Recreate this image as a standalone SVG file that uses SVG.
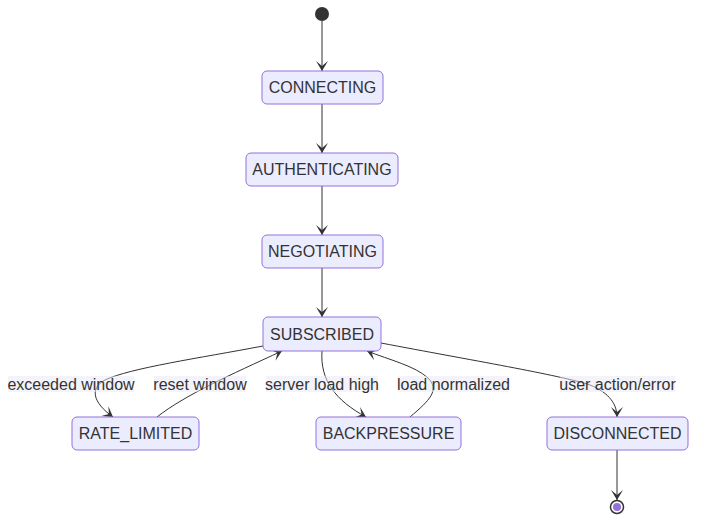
<svg xmlns="http://www.w3.org/2000/svg" width="704" height="527" viewBox="0 0 704 527">
<style>
.node rect{fill:#ECECFF;stroke:#9370DB;stroke-width:1}
.node text{font-family:"Liberation Sans",Arial,sans-serif;font-size:16px;fill:#333;text-anchor:middle;dominant-baseline:central}
.edge{fill:none;stroke:#333;stroke-width:1;marker-end:url(#barb)}
.lbl rect{fill:#e8e8f4;opacity:0.5}
.lbl text{font-family:"Liberation Sans",Arial,sans-serif;font-size:16px;fill:#333;text-anchor:middle;dominant-baseline:central}
</style>
<defs>
<marker id="barb" viewBox="0 0 20 14" refX="19" refY="7" markerWidth="20" markerHeight="14" markerUnits="userSpaceOnUse" orient="auto">
<path d="M19,7 L9,13 L14,7 L9,1 Z" fill="#333"/>
</marker>
</defs>
<g id="connectors">
<path class="edge" d="M322,21 L322,71"/>
<path class="edge" d="M322,104 L322,153"/>
<path class="edge" d="M322,186 L322,235"/>
<path class="edge" d="M322,268 L322,317"/>
<path class="edge" d="M263,346 C200,358 130,368 105,380 C90,388 92,402 113,417"/>
<path class="edge" d="M157,417 C185,395 230,375 282,351"/>
<path class="edge" d="M322,351 C320,380 335,400 366,417"/>
<path class="edge" d="M410,417 C430,400 440,390 428,378 C415,366 390,360 367,351"/>
<path class="edge" d="M381,343 C470,360 560,375 590,385 C610,393 617,405 617,417"/>
<path class="edge" d="M617,450 L617,500"/>
</g>
<g id="labels">
<g class="lbl"><rect x="8" y="376" width="126" height="16"/><text x="71" y="384">exceeded window</text></g>
<g class="lbl"><rect x="154" y="376" width="92" height="16"/><text x="200" y="384">reset window</text></g>
<g class="lbl"><rect x="266" y="376" width="112" height="16"/><text x="322" y="384">server load high</text></g>
<g class="lbl"><rect x="398" y="376" width="111" height="16"/><text x="453.5" y="384">load normalized</text></g>
<g class="lbl"><rect x="560" y="376" width="115" height="16"/><text x="617.5" y="384">user action/error</text></g>
</g>
<g id="start"><circle cx="322" cy="14" r="7" fill="#333"/></g>
<g id="CONNECTING" class="node"><rect x="262" y="71" width="121" height="33" rx="5"/><text x="322.5" y="87.5">CONNECTING</text></g>
<g id="AUTHENTICATING" class="node"><rect x="246" y="153" width="152" height="33" rx="5"/><text x="322" y="169.5">AUTHENTICATING</text></g>
<g id="NEGOTIATING" class="node"><rect x="262" y="235" width="121" height="33" rx="5"/><text x="322.5" y="251.5">NEGOTIATING</text></g>
<g id="SUBSCRIBED" class="node"><rect x="263" y="317" width="118" height="34" rx="5"/><text x="322" y="334">SUBSCRIBED</text></g>
<g id="RATE_LIMITED" class="node"><rect x="72" y="417" width="127" height="33" rx="5"/><text x="135.5" y="433.5">RATE_LIMITED</text></g>
<g id="BACKPRESSURE" class="node"><rect x="316" y="417" width="145" height="33" rx="5"/><text x="388.5" y="433.5">BACKPRESSURE</text></g>
<g id="DISCONNECTED" class="node"><rect x="547" y="417" width="141" height="33" rx="5"/><text x="617.5" y="433.5">DISCONNECTED</text></g>
<g id="end"><circle cx="617" cy="507" r="6.5" fill="#fff" stroke="#333" stroke-width="1.5"/><circle cx="617" cy="507" r="4" fill="#9370DB"/></g>
</svg>
